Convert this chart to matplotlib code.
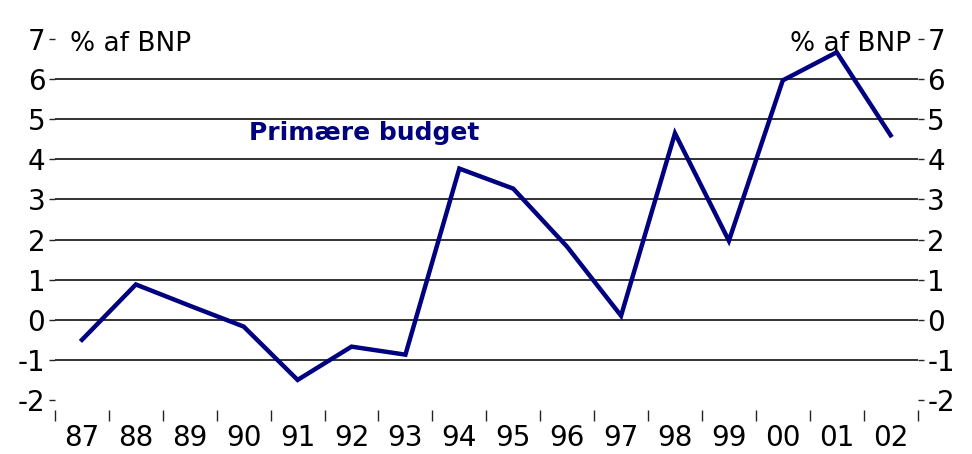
import matplotlib
matplotlib.use('Agg')
import matplotlib.pyplot as plt
import numpy as np

years = ['87', '88', '89', '90', '91', '92', '93', '94', '95', '96', '97', '98', '99', '00', '01', '02']
primary_budget = [-0.5, 0.88, 0.35, -0.17, -1.5, -0.67, -0.87, 3.77, 3.27, 1.82, 0.1, 4.65, 1.97, 5.97, 6.67, 4.6]
yticks = [-2, -1, 0, 1, 2, 3, 4, 5, 6, 7]

NAVY = '#000080'
plt.rcParams['font.family'] = ['DejaVu Sans']

fig = plt.figure(figsize=(9.72, 4.54), dpi=100)
ax = fig.add_axes([0.0566, 0.119, 0.8874, 0.795])

x = np.arange(len(years))

# gridlines (not at the limits)
for v in yticks[1:-1]:
    ax.axhline(v, color='#222222', lw=1.3, zorder=1)

ax.plot(x, primary_budget, color=NAVY, lw=3.2, zorder=3, solid_joinstyle='miter')

ax.set_xlim(-0.5, len(years) - 0.5)
ax.set_ylim(-2, 7)

for s in ax.spines.values():
    s.set_visible(False)
ax.spines['bottom'].set_position(('outward', 7))

ax.set_xticks(x)
ax.set_xticklabels(years, fontsize=20)
ax.set_xticks(np.arange(-0.5, len(years), 1.0), minor=True)
ax.tick_params(axis='x', which='major', length=0, pad=10)
ax.tick_params(axis='x', which='minor', length=8, width=1, color='#222222', direction='out')

ax.set_yticks(yticks)
ax.set_yticklabels([str(v) for v in yticks], fontsize=20)
ax.tick_params(axis='y', which='major', length=4, width=1, color='#222222',
               left=True, right=True, labelleft=True, labelright=True, pad=3)

ax.text(0.017, 0.985, '% af BNP', transform=ax.transAxes, fontsize=19,
        ha='left', va='center')
ax.text(0.993, 0.985, '% af BNP', transform=ax.transAxes, fontsize=19,
        ha='right', va='center')
ax.text(5.24, 4.65, 'Primære budget', fontsize=18, fontweight='bold',
        color=NAVY, ha='center', va='center')

fig.savefig('out.png', dpi=100)
